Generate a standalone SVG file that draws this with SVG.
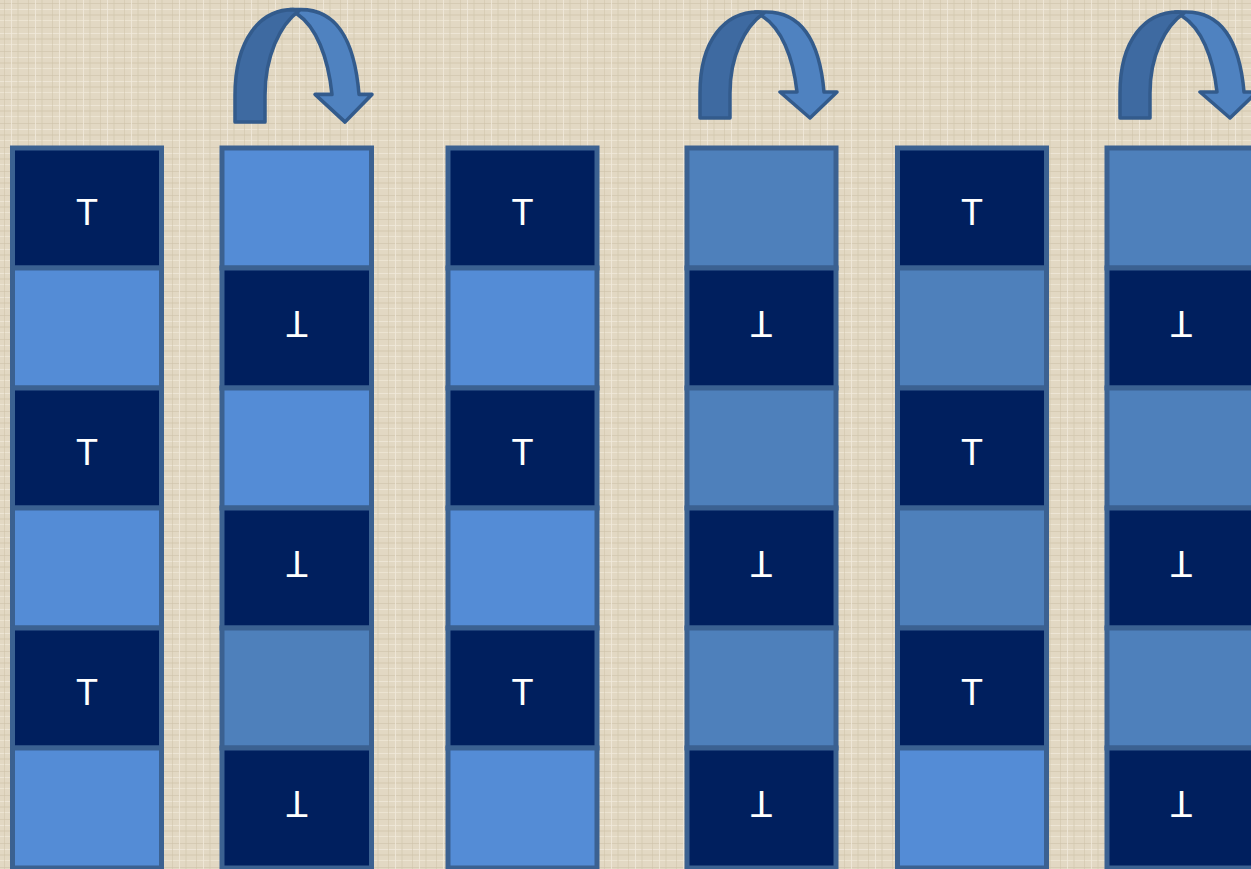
<svg xmlns="http://www.w3.org/2000/svg" width="1251" height="869" viewBox="0 0 1251 869">
<style>
.c{stroke:#3b6191;stroke-width:5}
.d{fill:#001f5e}
.l{fill:#548cd6}
.m{fill:#4e80bb}
.t{fill:#ffffff;font-family:"Liberation Sans",Arial,sans-serif;font-size:36px;text-anchor:middle}
.ad{fill:#3e6aa1;stroke:#335b8c;stroke-width:3.5;stroke-linejoin:round}
.al{fill:#4f82c0;stroke:#335b8c;stroke-width:3.5;stroke-linejoin:round}
</style>
<defs>
<pattern id="bg" width="24" height="24" patternUnits="userSpaceOnUse">
<rect width="24" height="24" fill="#e2d8c3"/>
<rect x="0" y="3" width="24" height="1" fill="#cfc3aa" opacity="0.6"/>
<rect x="0" y="9" width="24" height="1" fill="#f0e9da" opacity="0.8"/>
<rect x="0" y="14" width="24" height="2" fill="#d3c8b0" opacity="0.5"/>
<rect x="0" y="20" width="24" height="1" fill="#efe7d6" opacity="0.8"/>
<rect x="4" y="0" width="1" height="24" fill="#cdc1a8" opacity="0.5"/>
<rect x="11" y="0" width="1" height="24" fill="#f1eadc" opacity="0.8"/>
<rect x="17" y="0" width="2" height="24" fill="#d2c7ae" opacity="0.4"/>
</pattern>
<g id="arrow">
<path class="al" d="M55,-106 L66,-106 C105,-106 120,-72 124,-26 L137,-26 L110,0 L80,-26 L97,-26 C93,-62 81,-90 62,-102 Z"/>
<path class="ad" d="M0,0 L0,-25 C0,-78 25,-106 58,-106 L64,-105 C45,-92 30,-62 30,-25 L30,0 Z"/>
</g>
</defs>
<rect width="1251" height="869" fill="url(#bg)"/>
<g id="connectors">
<use href="#arrow" transform="translate(235,122) scale(1,1.06)"/>
<use href="#arrow" transform="translate(700,118)"/>
<use href="#arrow" transform="translate(1120,118)"/>
</g>
<g id="col1">
<rect class="c d" x="12.5" y="148" width="149" height="120"/>
<rect class="c l" x="12.5" y="268" width="149" height="120"/>
<rect class="c d" x="12.5" y="388" width="149" height="120"/>
<rect class="c l" x="12.5" y="508" width="149" height="120"/>
<rect class="c d" x="12.5" y="628" width="149" height="120"/>
<rect class="c l" x="12.5" y="748" width="149" height="120"/>
<text class="t" x="87" y="225">T</text>
<text class="t" x="87" y="465">T</text>
<text class="t" x="87" y="705">T</text>
</g>
<g id="col2">
<rect class="c l" x="222" y="148" width="149.5" height="120"/>
<rect class="c d" x="222" y="268" width="149.5" height="120"/>
<rect class="c l" x="222" y="388" width="149.5" height="120"/>
<rect class="c d" x="222" y="508" width="149.5" height="120"/>
<rect class="c m" x="222" y="628" width="149.5" height="120"/>
<rect class="c d" x="222" y="748" width="149.5" height="120"/>
<text class="t" x="297" y="345" transform="rotate(180 297 328)">T</text>
<text class="t" x="297" y="585" transform="rotate(180 297 568)">T</text>
<text class="t" x="297" y="825" transform="rotate(180 297 808)">T</text>
</g>
<g id="col3">
<rect class="c d" x="448" y="148" width="149" height="120"/>
<rect class="c l" x="448" y="268" width="149" height="120"/>
<rect class="c d" x="448" y="388" width="149" height="120"/>
<rect class="c l" x="448" y="508" width="149" height="120"/>
<rect class="c d" x="448" y="628" width="149" height="120"/>
<rect class="c l" x="448" y="748" width="149" height="120"/>
<text class="t" x="522.5" y="225">T</text>
<text class="t" x="522.5" y="465">T</text>
<text class="t" x="522.5" y="705">T</text>
</g>
<g id="col4">
<rect class="c m" x="687" y="148" width="149" height="120"/>
<rect class="c d" x="687" y="268" width="149" height="120"/>
<rect class="c m" x="687" y="388" width="149" height="120"/>
<rect class="c d" x="687" y="508" width="149" height="120"/>
<rect class="c m" x="687" y="628" width="149" height="120"/>
<rect class="c d" x="687" y="748" width="149" height="120"/>
<text class="t" x="761.5" y="345" transform="rotate(180 761.5 328)">T</text>
<text class="t" x="761.5" y="585" transform="rotate(180 761.5 568)">T</text>
<text class="t" x="761.5" y="825" transform="rotate(180 761.5 808)">T</text>
</g>
<g id="col5">
<rect class="c d" x="897.5" y="148" width="149" height="120"/>
<rect class="c m" x="897.5" y="268" width="149" height="120"/>
<rect class="c d" x="897.5" y="388" width="149" height="120"/>
<rect class="c m" x="897.5" y="508" width="149" height="120"/>
<rect class="c d" x="897.5" y="628" width="149" height="120"/>
<rect class="c l" x="897.5" y="748" width="149" height="120"/>
<text class="t" x="972" y="225">T</text>
<text class="t" x="972" y="465">T</text>
<text class="t" x="972" y="705">T</text>
</g>
<g id="col6">
<rect class="c m" x="1107" y="148" width="149" height="120"/>
<rect class="c d" x="1107" y="268" width="149" height="120"/>
<rect class="c m" x="1107" y="388" width="149" height="120"/>
<rect class="c d" x="1107" y="508" width="149" height="120"/>
<rect class="c m" x="1107" y="628" width="149" height="120"/>
<rect class="c d" x="1107" y="748" width="149" height="120"/>
<text class="t" x="1181.5" y="345" transform="rotate(180 1181.5 328)">T</text>
<text class="t" x="1181.5" y="585" transform="rotate(180 1181.5 568)">T</text>
<text class="t" x="1181.5" y="825" transform="rotate(180 1181.5 808)">T</text>
</g>
</svg>
